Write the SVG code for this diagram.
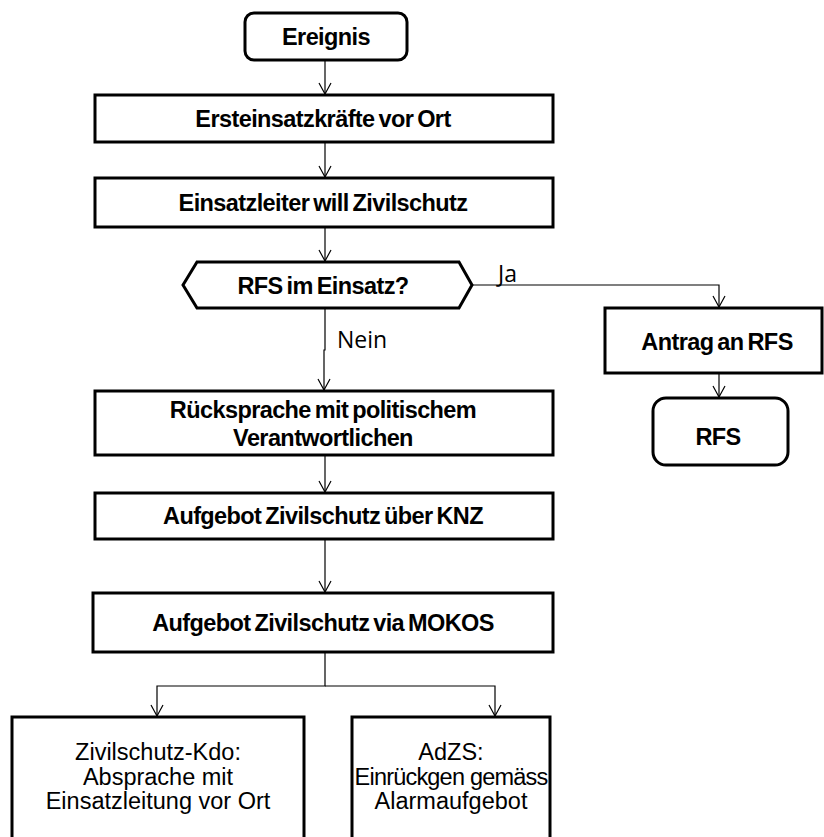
<svg xmlns="http://www.w3.org/2000/svg" width="824" height="837" viewBox="0 0 824 837">
<style>
.box{fill:#fff;stroke:#000;stroke-width:3}
.b{font-family:"Liberation Sans",Arial,sans-serif;font-weight:bold;font-size:23.5px;letter-spacing:-0.6px;word-spacing:-2px;text-anchor:middle;fill:#000}
.r{font-family:"Liberation Sans",Arial,sans-serif;font-size:23.5px;text-anchor:middle;fill:#000}
.l{font-family:"Open Sans","Noto Sans",sans-serif;font-size:23px;fill:#000}
.c{fill:none;stroke:#000;stroke-width:1.2}
</style>
<defs>
<marker id="a" markerWidth="14" markerHeight="14" refX="12" refY="7" orient="auto" markerUnits="userSpaceOnUse">
<path d="M1,1 L12,7 L1,13" fill="none" stroke="#000" stroke-width="1.2"/>
</marker>
</defs>
<rect width="824" height="837" fill="#fff"/>
<g id="connectors">
<path class="c" d="M325,60 V94" marker-end="url(#a)"/>
<path class="c" d="M325,142 V177" marker-end="url(#a)"/>
<path class="c" d="M325,227 V261" marker-end="url(#a)"/>
<path class="c" d="M472,285 H719 V307" marker-end="url(#a)"/>
<path class="c" d="M325,308 V350 H324 V390" marker-end="url(#a)"/>
<path class="c" d="M719,373 V397" marker-end="url(#a)"/>
<path class="c" d="M325,455 V492" marker-end="url(#a)"/>
<path class="c" d="M325,539 V592" marker-end="url(#a)"/>
<path class="c" d="M325,652 V686 H157 V716" marker-end="url(#a)"/>
<path class="c" d="M325,686 H495 V716" marker-end="url(#a)"/>
<text class="l" x="498" y="282">Ja</text>
<text class="l" x="337" y="348">Nein</text>
</g>
<g id="ereignis">
<rect class="box" x="245" y="13" width="162" height="47" rx="9"/>
<text class="b" x="326" y="45">Ereignis</text>
</g>
<g id="ersteinsatz">
<rect class="box" x="95" y="95" width="458" height="47"/>
<text class="b" x="323" y="127">Ersteinsatzkräfte vor Ort</text>
</g>
<g id="einsatzleiter">
<rect class="box" x="95" y="178" width="458" height="49"/>
<text class="b" x="323" y="211">Einsatzleiter will Zivilschutz</text>
</g>
<g id="rfs-frage">
<polygon class="box" points="183,285 197,262 459,262 472,285 459,308 197,308"/>
<text class="b" x="323" y="294">RFS im Einsatz?</text>
</g>
<g id="antrag">
<rect class="box" x="605" y="308" width="217" height="65"/>
<text class="b" x="717" y="350">Antrag an RFS</text>
</g>
<g id="rfs">
<rect class="box" x="653" y="398" width="135" height="67" rx="13"/>
<text class="b" x="718" y="445">RFS</text>
</g>
<g id="ruecksprache">
<rect class="box" x="95" y="391" width="458" height="64"/>
<text class="b" x="323" y="418">Rücksprache mit politischem</text>
<text class="b" x="323" y="446">Verantwortlichen</text>
</g>
<g id="knz">
<rect class="box" x="95" y="493" width="458" height="46"/>
<text class="b" x="323" y="524">Aufgebot Zivilschutz über KNZ</text>
</g>
<g id="mokos">
<rect class="box" x="93" y="593" width="460" height="59"/>
<text class="b" x="323" y="631">Aufgebot Zivilschutz via MOKOS</text>
</g>
<g id="zs-kdo">
<rect class="box" x="12" y="717" width="292" height="130"/>
<text class="r" x="158" y="760">Zivilschutz-Kdo:</text>
<text class="r" x="158" y="785">Absprache mit</text>
<text class="r" x="158" y="809">Einsatzleitung vor Ort</text>
</g>
<g id="adzs">
<rect class="box" x="352" y="717" width="198" height="130"/>
<text class="r" x="451" y="760">AdZS:</text>
<text class="r" x="451" y="785" style="letter-spacing:-0.8px">Einrückgen gemäss</text>
<text class="r" x="451" y="809">Alarmaufgebot</text>
</g>
</svg>
